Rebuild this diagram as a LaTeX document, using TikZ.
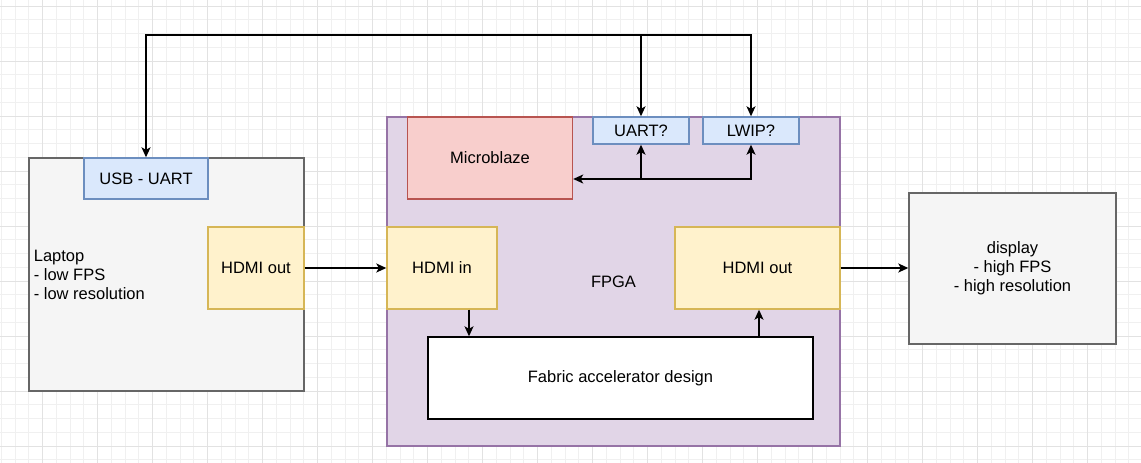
\documentclass[tikz,border=0pt]{standalone}
\usepackage{fontspec}
\setmainfont{Liberation Sans}
\usetikzlibrary{arrows.meta}
\definecolor{gridminor}{HTML}{F0F0F0}
\definecolor{gridmajor}{HTML}{E2E2E2}
\definecolor{grayfill}{HTML}{F5F5F5}
\definecolor{graystroke}{HTML}{666666}
\definecolor{bluefill}{HTML}{DAE8FC}
\definecolor{bluestroke}{HTML}{6C8EBF}
\definecolor{yellowfill}{HTML}{FFF2CC}
\definecolor{yellowstroke}{HTML}{D6B656}
\definecolor{purplefill}{HTML}{E1D5E7}
\definecolor{purplestroke}{HTML}{9673A6}
\definecolor{redfill}{HTML}{F8CECC}
\definecolor{redstroke}{HTML}{B85450}
\begin{document}
\begin{tikzpicture}[x=1pt,y=-1pt,
  every node/.style={font=\fontsize{16.5}{19}\selectfont},
  box/.style={draw, line width=1.4pt, inner sep=0pt, align=center},
  graybox/.style={box, fill=grayfill, draw=graystroke},
  bluebox/.style={box, fill=bluefill, draw=bluestroke},
  yellowbox/.style={box, fill=yellowfill, draw=yellowstroke},
  purplebox/.style={box, fill=purplefill, draw=purplestroke},
  redbox/.style={box, fill=redfill, draw=redstroke},
  whitebox/.style={box, fill=white, draw=black},
  arr/.style={line width=1.4pt, -{Stealth[length=10pt,width=9pt,inset=2.5pt]}},
  arrboth/.style={line width=1.4pt, {Stealth[length=10pt,width=9pt,inset=2.5pt]}-{Stealth[length=10pt,width=9pt,inset=2.5pt]}},
  minorline/.style={draw=gridminor, line width=1pt},
  majorline/.style={draw=gridmajor, line width=1pt}]
\useasboundingbox (0,0) rectangle (1141,463);
\fill[white] (0,0) rectangle (1141,463);
% grid
\begin{scope}
\clip (0,0) rectangle (1141,463);
\foreach \i in {0,...,83} \draw[minorline] ({1.45+13.75*\i},0) -- ++(0,463);
\foreach \i in {0,...,33} \draw[minorline] (0,{6+13.75*\i}) -- ++(1141,0);
\foreach \i in {0,...,19} \draw[majorline] ({42.7+55*\i},0) -- ++(0,463);
\foreach \i in {0,...,8} \draw[majorline] (0,{6+55*\i}) -- ++(1141,0);
\end{scope}
% laptop
\node[graybox, minimum width=275pt, minimum height=233pt,
  label={[anchor=west, align=left, xshift=2pt]west:{Laptop\\- low FPS\\- low resolution}}] (laptop) at (166.5,274.5) {};
\node[bluebox, minimum width=124pt, minimum height=41pt] (usb) at (146,178.5) {USB - UART};
\node[yellowbox, minimum width=96pt, minimum height=82pt] (hdmioutl) at (256,268) {HDMI out};
% FPGA
\node[purplebox, minimum width=453pt, minimum height=329pt] (fpga) at (613.5,281.5) {FPGA};
\node[redbox, minimum width=165pt, minimum height=82pt] (mb) at (490,158) {Microblaze};
\node[bluebox, minimum width=96pt, minimum height=27pt] (uart) at (641,130.5) {UART?};
\node[bluebox, minimum width=96pt, minimum height=27pt] (lwip) at (751,130.5) {LWIP?};
\node[yellowbox, minimum width=110pt, minimum height=82pt] (hdmiin) at (442,268) {HDMI in};
\node[yellowbox, minimum width=165pt, minimum height=82pt] (hdmioutr) at (757.5,268) {HDMI out};
\node[whitebox, minimum width=385pt, minimum height=82pt] (fabric) at (620.5,378) {Fabric accelerator design};
% display
\node[graybox, minimum width=207pt, minimum height=151pt] (display) at (1012.5,268.5) {display\\- high FPS\\- high resolution};
% helper coordinates
\coordinate (busy) at (0,179);
\coordinate (topy) at (0,35);
\coordinate (inx) at (469,0);
\coordinate (outx) at (759,0);
\coordinate (j1) at (uart.south |- busy);
\coordinate (j2) at (uart.north |- topy);
% connectors
\draw[arrboth] (lwip.south) |- (mb.east |- busy);
\draw[arr] (j1) -- (uart.south);
\draw[arrboth] (usb.north) -- (usb.north |- topy) -- (lwip.north |- topy) -- (lwip.north);
\draw[arr] (j2) -- (uart.north);
\draw[arr] (hdmioutl.east) -- (hdmiin.west);
\draw[arr] (hdmioutr.east) -- (display.west |- hdmioutr.east);
\draw[arr] (hdmiin.south -| inx) -- (fabric.north -| inx);
\draw[arr] (fabric.north -| outx) -- (hdmioutr.south -| outx);
\end{tikzpicture}
\end{document}
